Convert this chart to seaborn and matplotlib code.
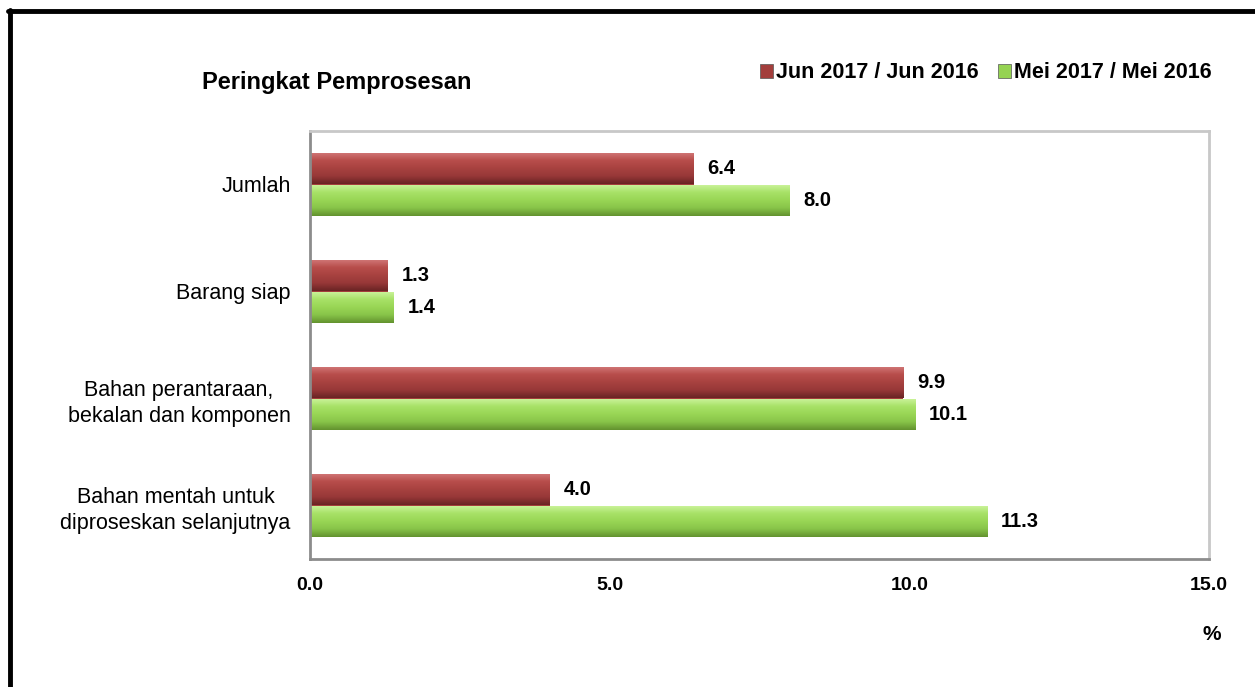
import numpy as np
import pandas as pd
import matplotlib
matplotlib.use("Agg")
import matplotlib.pyplot as plt
import matplotlib.patches as mpatches
from matplotlib.colors import LinearSegmentedColormap
from matplotlib.lines import Line2D
import seaborn as sns

# data
categories = ["Jumlah", "Barang siap", "Bahan perantaraan,\nbekalan dan komponen",
              "Bahan mentah untuk\ndiproseskan selanjutnya"]
series_names = ["Jun 2017 / Jun 2016", "Mei 2017 / Mei 2016"]
jun_values = [6.4, 1.3, 9.9, 4.0]
mei_values = [8.0, 1.4, 10.1, 11.3]
x_ticks = [0, 5, 10, 15]

sns.set_theme(style="white")
plt.rcParams['font.family'] = ['Liberation Sans', 'DejaVu Sans']
plt.rcParams['text.color'] = 'black'
plt.rcParams['xtick.labelcolor'] = 'black'
plt.rcParams['ytick.labelcolor'] = 'black'

df = pd.DataFrame({
    'kategori': categories * 2,
    'siri': [series_names[0]] * 4 + [series_names[1]] * 4,
    'nilai': jun_values + mei_values,
})

palette = {series_names[0]: '#A33E3C', series_names[1]: '#95D352'}
grad = {
    series_names[0]: ['#D27878', '#B84E4C', '#A84240', '#983838', '#6A2424'],
    series_names[1]: ['#CDF49E', '#A8E268', '#99D655', '#88C449', '#63932F'],
}

fig = plt.figure(figsize=(12.55, 6.87), dpi=100)
ax = fig.add_axes([310 / 1255, 1 - 559 / 687, 899 / 1255, 428 / 687])

sns.barplot(data=df, x='nilai', y='kategori', hue='siri', hue_order=series_names,
            palette=palette, orient='h', width=0.58, legend=False, ax=ax,
            edgecolor='none', saturation=1)

# bevel-like gradient on each bar
n = len(categories)
for i, p in enumerate(ax.patches):
    name = series_names[i // n]
    cmap = LinearSegmentedColormap.from_list('g', grad[name])
    x0, y0 = p.get_x(), p.get_y()
    w, h = p.get_width(), p.get_height()
    g = np.linspace(0, 1, 64).reshape(-1, 1)
    im = ax.imshow(g, cmap=cmap, aspect='auto', extent=(x0, x0 + w, y0 + h, y0),
                   origin='upper', zorder=2)
    im.set_clip_path(p)

for c in ax.containers:
    ax.bar_label(c, fmt='%.1f', padding=10, fontsize=14.5, fontweight='bold')

ax.set_xlim(0, 15)
ax.set_ylim(3.5, -0.5)
ax.set_xticks(x_ticks)
ax.set_xticklabels([f'{t:.1f}' for t in x_ticks], fontsize=14, fontweight='bold')
ax.set_yticks(range(n))
ax.set_yticklabels(categories, fontsize=15.5, ha='right', multialignment='center',
                   linespacing=1.3)
ax.set_yticks(np.arange(-0.5, n, 1.0), minor=True)
ax.tick_params(axis='y', which='major', length=0, pad=14)
ax.tick_params(axis='y', which='minor', length=10, width=1.5, color='#888888', direction='out')
ax.tick_params(axis='x', which='major', length=6, width=1.5, color='#888888', direction='out', pad=7)
ax.set_xlabel('')
ax.set_ylabel('')

for s in ['left', 'bottom']:
    ax.spines[s].set_color('#8C8C8C')
    ax.spines[s].set_linewidth(2)
for s in ['top', 'right']:
    ax.spines[s].set_color('#C8C8C8')
    ax.spines[s].set_linewidth(2)

fig.text(202 / 1255, 1 - 82 / 687, 'Peringkat Pemprosesan', fontsize=17, fontweight='bold',
         va='center', ha='left')
fig.text(1212 / 1255, 1 - 635 / 687, '%', fontsize=15, fontweight='bold', va='center', ha='center')

handles = [mpatches.Patch(facecolor=palette[s], edgecolor='#555555', linewidth=0.5, label=s)
           for s in series_names]
leg = fig.legend(handles=handles, loc='center right', bbox_to_anchor=(1231 / 1255, 1 - 73 / 687),
                 ncol=2, frameon=False, handlelength=0.6, handleheight=0.6, handletextpad=0.15,
                 columnspacing=0.9, prop={'weight': 'bold', 'size': 15.5})

# frame on the left and top of the figure
fig.add_artist(Line2D([10 / 1255, 10 / 1255], [0, 1 - 10 / 687], color='black', lw=3.5))
fig.add_artist(Line2D([8 / 1255, 1], [1 - 10.5 / 687, 1 - 10.5 / 687], color='black', lw=3.5))

fig.savefig('out.png', dpi=100)
